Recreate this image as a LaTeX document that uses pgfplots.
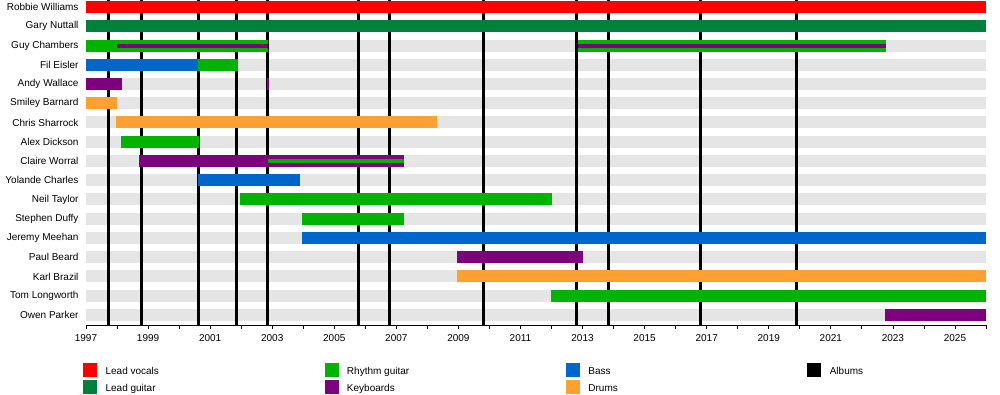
\documentclass[border=0pt]{standalone}
\usepackage{pgfplots}
\pgfplotsset{compat=1.18}
\usepackage{fontspec}
\setmainfont{Liberation Sans}
\definecolor{cVoc}{HTML}{FF0000}
\definecolor{cLG}{HTML}{00803A}
\definecolor{cRG}{HTML}{00B300}
\definecolor{cKey}{HTML}{7F007F}
\definecolor{cBass}{HTML}{0066CC}
\definecolor{cDrum}{HTML}{FFA033}
\definecolor{cGrey}{HTML}{E5E5E5}
\begin{document}
\begin{tikzpicture}[font=\fontsize{10}{12}\selectfont]
\useasboundingbox (0,0) rectangle (1000pt,395pt);
\begin{axis}[
  at={(86pt,70pt)}, anchor=south west,
  scale only axis, width=900pt, height=325pt,
  xmin=1997, xmax=2026, ymin=0.636, ymax=17.52, y dir=reverse,
  axis lines*=left, axis line style={-, line width=0.8pt},
  y axis line style={draw=none},
  tick align=outside, major tick length=4pt, minor tick length=4pt,
  tick style={black, line width=0.8pt},
  xtick={1997,1999,...,2025}, minor xtick={1998,2000,...,2026},
  xticklabel style={yshift=-1.5pt},
  scaled x ticks=false,
  /pgf/number format/1000 sep={},
  /pgf/number format/assume math mode=true,
  ytick={1,...,17},
  yticklabels={Robbie Williams, Gary Nuttall, Guy Chambers, Fil Eisler, Andy Wallace, Smiley Barnard, Chris Sharrock, Alex Dickson, Claire Worral, Yolande Charles, Neil Taylor, Stephen Duffy, Jeremy Meehan, Paul Beard, Karl Brazil, Tom Longworth, Owen Parker},
  ytick style={draw=none},
  bar/.style={line width=12pt, forget plot},
  stripe/.style={line width=4pt, forget plot},
  album/.style={black, line width=3pt, forget plot},
  legend columns=4,
  legend style={at={(0,0)}, anchor=north west, xshift=-3pt, yshift=-37.3pt,
    draw=none, fill=none, inner sep=0pt, nodes={inner sep=0pt},
    row sep=3.7pt, /tikz/every odd column/.style={column sep=9pt}},
]
% background rows
\addplot[bar, cGrey] coordinates {(1997,1) (2026,1)};
\addplot[bar, cGrey] coordinates {(1997,2) (2026,2)};
\addplot[bar, cGrey] coordinates {(1997,3) (2026,3)};
\addplot[bar, cGrey] coordinates {(1997,4) (2026,4)};
\addplot[bar, cGrey] coordinates {(1997,5) (2026,5)};
\addplot[bar, cGrey] coordinates {(1997,6) (2026,6)};
\addplot[bar, cGrey] coordinates {(1997,7) (2026,7)};
\addplot[bar, cGrey] coordinates {(1997,8) (2026,8)};
\addplot[bar, cGrey] coordinates {(1997,9) (2026,9)};
\addplot[bar, cGrey] coordinates {(1997,10) (2026,10)};
\addplot[bar, cGrey] coordinates {(1997,11) (2026,11)};
\addplot[bar, cGrey] coordinates {(1997,12) (2026,12)};
\addplot[bar, cGrey] coordinates {(1997,13) (2026,13)};
\addplot[bar, cGrey] coordinates {(1997,14) (2026,14)};
\addplot[bar, cGrey] coordinates {(1997,15) (2026,15)};
\addplot[bar, cGrey] coordinates {(1997,16) (2026,16)};
\addplot[bar, cGrey] coordinates {(1997,17) (2026,17)};
% albums
\addplot[album] coordinates {(1997.72,0) (1997.72,18)};
\addplot[album] coordinates {(1998.78,0) (1998.78,18)};
\addplot[album] coordinates {(2000.62,0) (2000.62,18)};
\addplot[album] coordinates {(2001.84,0) (2001.84,18)};
\addplot[album] coordinates {(2002.84,0) (2002.84,18)};
\addplot[album] coordinates {(2005.78,0) (2005.78,18)};
\addplot[album] coordinates {(2006.78,0) (2006.78,18)};
\addplot[album] coordinates {(2009.82,0) (2009.82,18)};
\addplot[album] coordinates {(2012.80,0) (2012.80,18)};
\addplot[album] coordinates {(2013.85,0) (2013.85,18)};
\addplot[album] coordinates {(2016.80,0) (2016.80,18)};
\addplot[album] coordinates {(2019.88,0) (2019.88,18)};
% members
\addplot[bar, cVoc] coordinates {(1997,1) (2026,1)};
\addplot[bar, cLG] coordinates {(1997,2) (2026,2)};
\addplot[bar, cRG] coordinates {(1997,3) (2002.86,3)};
\addplot[stripe, cKey] coordinates {(1998.0,3) (2002.86,3)};
\addplot[bar, cRG] coordinates {(2012.86,3) (2022.77,3)};
\addplot[stripe, cKey] coordinates {(2012.86,3) (2022.77,3)};
\addplot[bar, cBass] coordinates {(1997,4) (2000.62,4)};
\addplot[bar, cRG] coordinates {(2000.62,4) (2001.9,4)};
\addplot[bar, cKey] coordinates {(1997,5) (1998.16,5)};
\addplot[bar, cKey] coordinates {(2002.82,5) (2002.90,5)};
\addplot[bar, cDrum] coordinates {(1997,6) (1998.0,6)};
\addplot[bar, cDrum] coordinates {(1997.97,7) (2008.32,7)};
\addplot[bar, cRG] coordinates {(1998.13,8) (2000.65,8)};
\addplot[bar, cKey] coordinates {(1998.71,9) (2007.26,9)};
\addplot[stripe, cRG] coordinates {(2002.85,9) (2007.26,9)};
\addplot[bar, cBass] coordinates {(2000.62,10) (2003.9,10)};
\addplot[bar, cRG] coordinates {(2001.97,11) (2012.0,11)};
\addplot[bar, cRG] coordinates {(2003.97,12) (2007.26,12)};
\addplot[bar, cBass] coordinates {(2003.97,13) (2026,13)};
\addplot[bar, cKey] coordinates {(2008.97,14) (2013.0,14)};
\addplot[bar, cDrum] coordinates {(2008.97,15) (2026,15)};
\addplot[bar, cRG] coordinates {(2011.97,16) (2026,16)};
\addplot[bar, cKey] coordinates {(2022.74,17) (2026,17)};
% legend
\addlegendimage{legend image code/.code={\fill[cVoc] (0pt,-4pt) rectangle (13pt,9pt);}}
\addlegendentry{\makebox[219pt][l]{Lead vocals}}
\addlegendimage{legend image code/.code={\fill[cRG] (0pt,-4pt) rectangle (13pt,9pt);}}
\addlegendentry{\makebox[219pt][l]{Rhythm guitar}}
\addlegendimage{legend image code/.code={\fill[cBass] (0pt,-4pt) rectangle (13pt,9pt);}}
\addlegendentry{\makebox[219pt][l]{Bass}}
\addlegendimage{legend image code/.code={\fill[black] (0pt,-4pt) rectangle (13pt,9pt);}}
\addlegendentry{Albums}
\addlegendimage{legend image code/.code={\fill[cLG] (0pt,-4pt) rectangle (13pt,9pt);}}
\addlegendentry{\makebox[219pt][l]{Lead guitar}}
\addlegendimage{legend image code/.code={\fill[cKey] (0pt,-4pt) rectangle (13pt,9pt);}}
\addlegendentry{\makebox[219pt][l]{Keyboards}}
\addlegendimage{legend image code/.code={\fill[cDrum] (0pt,-4pt) rectangle (13pt,9pt);}}
\addlegendentry{\makebox[219pt][l]{Drums}}
\end{axis}
\end{tikzpicture}
\end{document}
